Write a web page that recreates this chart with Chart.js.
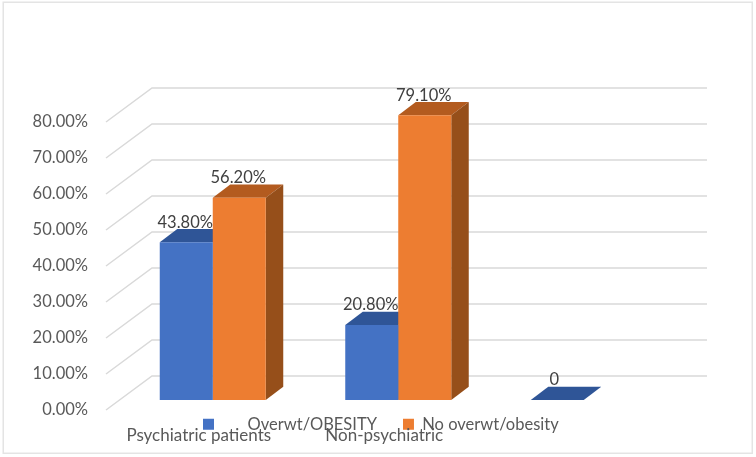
<!DOCTYPE html>
<html>
<head>
<meta charset="utf-8">
<style>html,body{margin:0;padding:0;background:#fff}canvas{display:block;filter:blur(0.35px)}</style>
<script src="https://cdn.jsdelivr.net/npm/chart.js@4"></script>
</head>
<body>
<canvas id="c" width="756" height="457"></canvas>
<script>
const categories = ["Psychiatric patients", "Non-psychiatric", ""];
const overweight = [43.8, 20.8, 0];
const noOverweight = [56.2, 79.1, null];
const seriesNames = ["\u00a0\u00a0\u00a0\u00a0\u00a0\u00a0Overwt/OBESITY", "No overwt/obesity"];

const FONT = "Lato, Carlito, sans-serif";
const SIZE = 16.5;
const pxPerUnit = 3.6;
const floorDx = 14, floorDy = 10;    // bar plane sits inside the floor
const wallDx = 46, wallDy = 34;      // front edge of floor -> back wall
const wallRight = 707;
const barDx = 17.5, barDy = 13.3;    // bar depth

const faces = [
  {top: "#2f5597", side: "#2f5597"},
  {top: "#b35b1f", side: "#964f1a"}
];

const scene = {
  id: "scene",
  beforeDraw(chart) {
    const c = chart.ctx;
    c.save();
    c.strokeStyle = "#e4e4e4";
    c.lineWidth = 1.5;
    c.strokeRect(3.25, 2.25, 749, 451);
    c.restore();
  },
  afterLayout(chart) {
    const l = chart.legend;
    l.left = 177; l.right = 756; l.top = 390; l.bottom = 445;
  },
  beforeDatasetsDraw(chart) {
    const c = chart.ctx, y = chart.scales.y, left = chart.chartArea.left;
    c.save();
    c.strokeStyle = "#d9d9d9";
    c.lineWidth = 1.5;
    y.ticks.forEach(t => {
      const py = y.getPixelForValue(t.value);
      c.beginPath();
      c.moveTo(left - floorDx, py);
      c.lineTo(left - floorDx + wallDx, py - wallDy);
      c.lineTo(wallRight, py - wallDy);
      c.stroke();
    });
    chart.data.datasets.forEach((ds, i) => {
      chart.getDatasetMeta(i).data.forEach((el, j) => {
        if (ds.data[j] === null) return;
        const L = el.x - el.width / 2, R = el.x + el.width / 2, T = el.y, B = el.base;
        c.fillStyle = faces[i].top;
        c.beginPath();
        c.moveTo(L, T); c.lineTo(R, T); c.lineTo(R + barDx, T - barDy); c.lineTo(L + barDx, T - barDy);
        c.closePath(); c.fill();
        if (B > T) {
          c.fillStyle = faces[i].side;
          c.beginPath();
          c.moveTo(R, T); c.lineTo(R + barDx, T - barDy); c.lineTo(R + barDx, B - barDy); c.lineTo(R, B);
          c.closePath(); c.fill();
        }
      });
    });
    c.restore();
  },
  afterDatasetsDraw(chart) {
    const c = chart.ctx;
    c.save();
    c.font = SIZE + "px " + FONT;
    c.fillStyle = "#404040";
    c.textAlign = "center";
    c.textBaseline = "middle";
    chart.data.datasets.forEach((ds, i) => {
      chart.getDatasetMeta(i).data.forEach((el, j) => {
        const v = ds.data[j];
        if (v === null) return;
        const s = v === 0 ? "0" : v.toFixed(2) + "%";
        c.fillText(s, el.x - 1 - (v === 0 ? 2 : 0), el.y - 20);
      });
    });
    c.restore();
  }
};

new Chart(document.getElementById("c"), {
  type: "bar",
  data: {
    labels: categories,
    datasets: [
      {label: seriesNames[0], data: overweight, backgroundColor: "#4472c4", yAxisID: "y2", clip: false},
      {label: seriesNames[1], data: noOverweight, backgroundColor: "#ed7d31", yAxisID: "y2", clip: false}
    ]
  },
  options: {
    responsive: false,
    animation: false,
    devicePixelRatio: 1,
    layout: {padding: {left: 0, right: 79.5, top: 82, bottom: 0}},
    datasets: {bar: {barPercentage: 1, categoryPercentage: 106 / 185.5}},
    scales: {
      x: {
        grid: {display: false, drawTicks: false},
        border: {display: false},
        afterFit(s) { s.height = 47; },
        ticks: {
          font: {family: FONT, size: 17}, color: "#595959",
          padding: 15, labelOffset: -14, autoSkip: false, maxRotation: 0
        }
      },
      y: {
        min: 0, max: 80,
        grid: {display: false, drawTicks: false},
        border: {display: false},
        afterFit(s) { s.width = 120; },
        ticks: {
          stepSize: 10, padding: 32,
          font: {family: FONT, size: SIZE}, color: "#595959",
          callback: v => v.toFixed(2) + "%"
        }
      },
      y2: {
        display: false,
        min: -floorDy / pxPerUnit,
        max: 80 - floorDy / pxPerUnit
      }
    },
    plugins: {
      tooltip: {enabled: false},
      legend: {
        display: true,
        position: "top",
        align: "start",
        maxHeight: 40,
        labels: {
          boxWidth: 11, boxHeight: 11, padding: 26,
          color: "#595959", font: {family: FONT, size: SIZE}
        }
      }
    }
  },
  plugins: [scene]
});
</script>
</body>
</html>
